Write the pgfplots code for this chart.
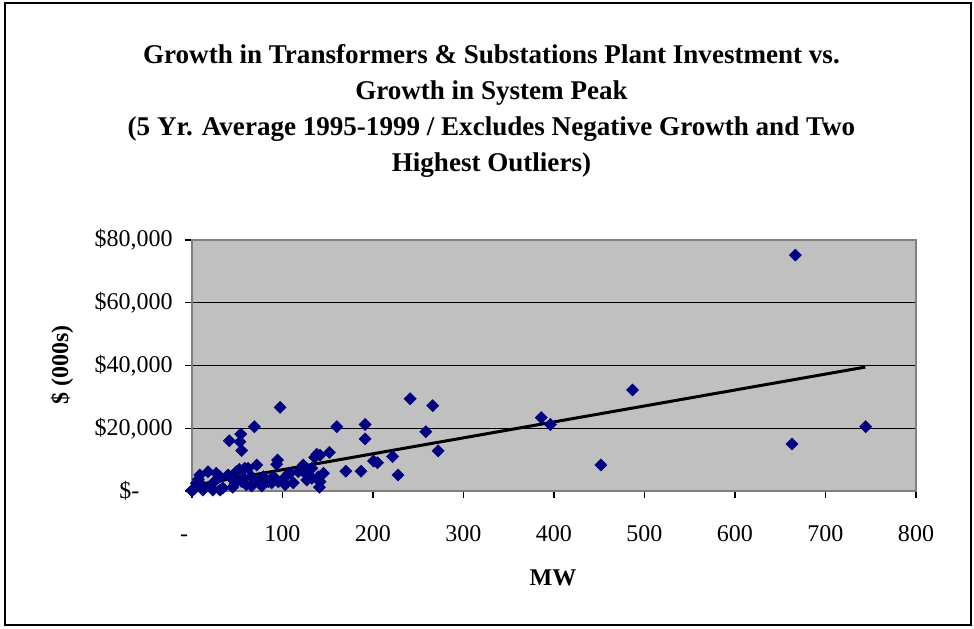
\documentclass[border=0pt]{standalone}
\usepackage{fontspec}
\setmainfont{Liberation Serif}
\usepackage{pgfplots}
\pgfplotsset{compat=1.18}
\definecolor{plotgray}{HTML}{C0C0C0}
\definecolor{navyblue}{HTML}{000080}
\definecolor{bordergray}{HTML}{808080}
\begin{document}
\begin{tikzpicture}
\path[use as bounding box] (-144pt,-102.75pt) rectangle (586.5pt,368.25pt);
\begin{axis}[
  at={(0,0)}, anchor=south west,
  scale only axis, width=543pt, height=188.25pt,
  xmin=0, xmax=800, ymin=0, ymax=80000,
  xtick={0,100,...,800},
  xticklabels={-\kern12pt,100,200,300,400,500,600,700,800},
  ytick={0,20000,40000,60000,80000},
  yticklabels={\$-\kern25pt,\$20{,}000,\$40{,}000,\$60{,}000,\$80{,}000},
  scaled ticks=false,
  tick align=outside, major tick length=5pt,
  xtick pos=bottom, ytick pos=left,
  tick style={black, line width=0.8pt},
  ymajorgrids, grid style={black, line width=0.6pt},
  axis background/.style={fill=plotgray},
  axis line style={bordergray, line width=1.5pt},
  ticklabel style={font=\fontsize{18}{20}\selectfont},
  yticklabel style={xshift=-6pt},
  xticklabel style={anchor=base, yshift=-33pt},
  clip=false,
]
\addplot[only marks, mark=square*, mark size=3.2pt, mark options={rotate=45, fill=navyblue, draw=navyblue}, color=navyblue] coordinates {
(666.7,75200) (663,15000) (744.4,20500) (486.8,32200) (451.8,8300)
(385.9,23400) (396,21200) (241,29400) (266,27200) (258.4,18900)
(272,12800) (221.7,11000) (200.5,9550) (205,9000) (227.7,5100)
(160,20500) (191.3,21200) (191.3,16600) (151.8,12300) (170,6300)
(186.8,6300) (137.9,11700) (141.5,11400) (135.5,10700) (145.2,5640)
(139.7,4550) (130.5,4550) (125,5640) (121.3,7230) (140.8,1200)
(112,2600) (108.4,5700) (123,8280) (132.4,4040) (141.5,2960)
(126.8,6700) (132.4,7230) (126.8,3500) (117.5,6150) (106.5,5500)
(97.3,26650) (68.9,20480) (41.2,16000) (53.8,18150) (53,15700)
(54.9,12900) (94.5,9870) (93.6,8500) (71.5,8280) (62,7230)
(52.3,6900) (58.2,7230) (49,6150) (39.8,5100) (26.9,5640)
(17.7,6150) (8.5,5100) (7,3700) (41.2,4780) (31,4550)
(75.2,3500) (86.2,3500) (90,4550) (78.8,4550) (66,4550)
(84.3,2960) (95.4,2960) (75.2,2960) (65.8,1600) (77,1600)
(88,2600) (47.5,2450) (23.6,2640) (4.8,2450) (3.3,860)
(0,300) (12,300) (23,300) (31,300) (34,950)
(12.5,1180) (7,2960) (55,3000) (60,2000) (100,3500)
(103,2000) (20,1500) (45,1200) (57,4000) (0,0)
};
\addplot[black, line width=2.25pt] coordinates {(0,1700) (744,39500)};
\end{axis}
\draw[black, line width=1.5pt] (-140.25pt,-100.5pt) rectangle (584.25pt,366pt);
\node[align=center, font=\fontsize{20.3}{27}\selectfont\bfseries] at (224.6pt,285pt)
 {Growth in Transformers \& Substations Plant Investment vs.\\
  Growth in System Peak\\
  (5 Yr. Average 1995-1999 / Excludes Negative Growth and Two\\
  Highest Outliers)};
\node[font=\fontsize{18}{20}\selectfont\bfseries] at (270.75pt,-65.25pt) {MW};
\node[font=\fontsize{18}{20}\selectfont\bfseries, rotate=90] at (-97.5pt,94.5pt) {\$ (000s)};
\end{tikzpicture}
\end{document}
